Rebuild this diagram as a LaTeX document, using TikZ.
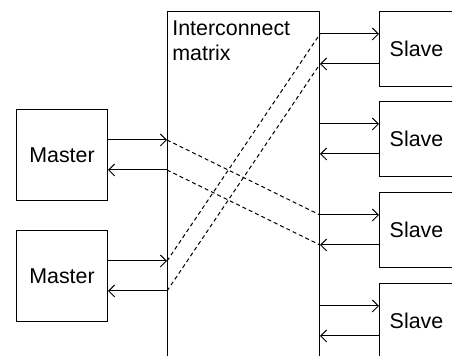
\documentclass[tikz,border=0pt]{standalone}
\usepackage{fontspec}
\setmainfont{Liberation Sans}
\usetikzlibrary{arrows.meta}

\tikzset{
  blk/.style={draw, line width=0.5pt, inner sep=0pt},
  sig/.style={-{Straight Barb[length=3pt,width=6pt]}, line width=0.5pt},
  xroute/.style={line width=0.5pt, dash pattern=on 2pt off 1.5pt},
}

\begin{document}
\begin{tikzpicture}[x=0.5pt, y=-0.5pt, font=\fontsize{10.7}{12.2}\selectfont]
  \def\d{7.5pt}
  \useasboundingbox (0,0) rectangle (452,356);

  % Interconnect
  \node[blk, minimum width=76pt, minimum height=195pt, anchor=north west] (mat) at (167,11) {};
  \node[anchor=north west, align=left, inner xsep=2.5pt, inner ysep=4.8pt] (lbl) at (mat.north west) {Interconnect\\matrix};

  % Masters
  \node[blk, minimum width=45.5pt, minimum height=45.5pt, anchor=north west] (m1) at (16,109) {Master};
  \node[blk, minimum width=45.5pt, minimum height=45.5pt, anchor=north west] (m2) at (16,230) {Master};

  % Slaves
  \node[blk, minimum width=37pt, minimum height=37.5pt, anchor=north west] (s1) at (379,11) {Slave};
  \node[blk, minimum width=37pt, minimum height=37.5pt, anchor=north west] (s2) at (379,101) {Slave};
  \node[blk, minimum width=37pt, minimum height=37.5pt, anchor=north west] (s3) at (379,192) {Slave};
  \node[blk, minimum width=37pt, minimum height=37.5pt, anchor=north west] (s4) at (379,283) {Slave};

  % Master ports
  \foreach \m in {1,2} {
    \draw[sig] ([yshift=\d]m\m.east) -- ([yshift=\d]m\m.east -| mat.west) coordinate (a\m);
    \draw[sig] ([yshift=-\d]m\m.east -| mat.west) coordinate (b\m) -- ([yshift=-\d]m\m.east);
  }

  % Slave ports
  \foreach \s in {1,...,4} {
    \draw[sig] ([yshift=\d]s\s.west -| mat.east) coordinate (c\s) -- ([yshift=\d]s\s.west);
    \draw[sig] ([yshift=-\d]s\s.west) -- ([yshift=-\d]s\s.west -| mat.east) coordinate (e\s);
  }

  % Routes through the matrix
  \draw[xroute] (a1) -- (c3);
  \draw[xroute] (b1) -- (e3);
  \draw[xroute] (a2) -- (c1);
  \draw[xroute] (b2) -- (e1);
\end{tikzpicture}
\end{document}
